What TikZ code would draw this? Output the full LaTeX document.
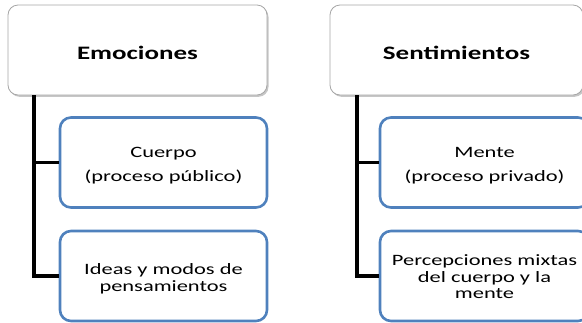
\documentclass[tikz,border=0pt]{standalone}
\usepackage{fontspec}
\setmainfont[FakeStretch=1.42]{Carlito}
\usetikzlibrary{shadows}
\definecolor{boxblue}{HTML}{4F81BD}
\definecolor{greyline}{HTML}{A6A6A6}
\tikzset{
  headbox/.style={draw=greyline, line width=0.8pt, fill=white, rounded corners=10pt,
    drop shadow={shadow xshift=1.5pt, shadow yshift=-1.8pt, opacity=0.45},
    inner sep=0pt, minimum height=90pt},
  headtext/.style={font=\fontsize{19}{22}\selectfont\bfseries, align=center, inner sep=0pt},
  itembox/.style={draw=boxblue, line width=2.6pt, fill=white, rounded corners=11pt,
    inner sep=0pt, minimum width=207pt, minimum height=90pt},
  itemtext/.style={font=\fontsize{15.8}{16.6}\selectfont, align=center, inner sep=0pt},
  trunk/.style={line width=3.4pt, black}
}
\begin{document}
\begin{tikzpicture}[x=1pt, y=-1pt]
\useasboundingbox (0,0) rectangle (582,322);
\clip (0,0) rectangle (582,322);
% headers
\node[headbox, minimum width=259pt] (L) at (137.5,50) {};
\node[headbox, minimum width=253pt] (R) at (456.5,50) {};
\node[headtext] (Lt) at ([yshift=-3pt]L.center) {Emociones};
\node[headtext] (Rt) at ([yshift=-3pt]R.center) {Sentimientos};
% bus coordinates
\coordinate (lbus) at (34,0);
\coordinate (rbus) at (357,0);
% items
\node[itembox] (L1) at (163.5,162.5) {};
\node[itembox] (L2) at (163.5,276) {};
\node[itembox, minimum width=209pt] (R1) at (484.5,162.5) {};
\node[itembox, minimum width=209pt] (R2) at (484.5,276) {};
\node[itemtext] (L1t) at ([yshift=-3pt]L1.center) {Cuerpo\\[7pt](proceso público)};
\node[itemtext] (L2t) at ([yshift=-3pt]L2.center) {Ideas y modos de\\pensamientos};
\node[itemtext] (R1t) at ([yshift=-3pt]R1.center) {Mente\\[7pt](proceso privado)};
\node[itemtext] (R2t) at ([yshift=-1pt]R2.center) {Percepciones mixtas\\del cuerpo y la\\mente};
% connectors
\draw[trunk] (L.south -| lbus) |- (L1.west);
\draw[trunk] (L.south -| lbus) |- (L2.west);
\draw[trunk] (R.south -| rbus) |- (R1.west);
\draw[trunk] (R.south -| rbus) |- (R2.west);
\end{tikzpicture}
\end{document}
